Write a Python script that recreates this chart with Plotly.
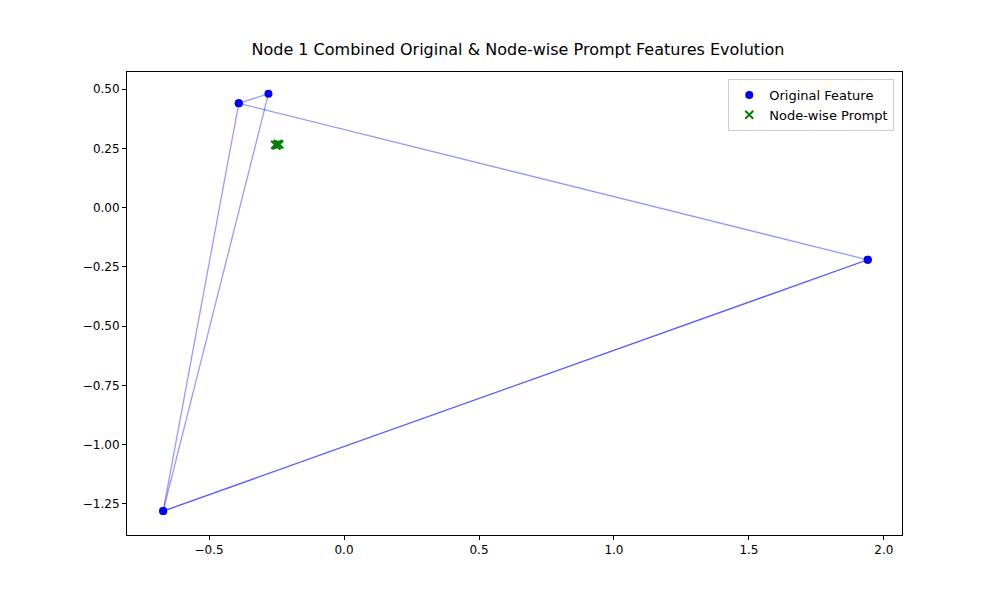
import plotly.graph_objects as go

orig_x = [-0.39, -0.28, -0.67, -0.39, 1.94, -0.67, 1.94]
orig_y = [0.44, 0.48, -1.28, 0.44, -0.22, -1.28, -0.22]
prompt_x = [-0.255, -0.245, -0.25, -0.24]
prompt_y = [0.265, 0.268, 0.262, 0.266]

fig = go.Figure()
for i in range(len(orig_x) - 1):
    fig.add_trace(go.Scatter(x=orig_x[i:i+2], y=orig_y[i:i+2], mode="lines",
                             line=dict(color="rgba(0,0,255,0.4)", width=1.3),
                             showlegend=False, hoverinfo="skip"))
fig.add_trace(go.Scatter(x=orig_x, y=orig_y, mode="markers", name="Original Feature",
                         marker=dict(color="blue", size=8)))
fig.add_trace(go.Scatter(x=prompt_x, y=prompt_y, mode="markers", name="Node-wise Prompt",
                         marker=dict(color="green", size=8, symbol="x-thin",
                                     line=dict(color="green", width=2))))

ax = dict(showgrid=False, zeroline=False, showline=True, mirror=True, linecolor="black",
          ticks="outside", tickcolor="black", ticklen=4, tickfont=dict(size=12, color="black"))
fig.update_layout(
    width=1000, height=600, plot_bgcolor="white", paper_bgcolor="white",
    font=dict(family="DejaVu Sans", color="black"),
    title=dict(text="Node 1 Combined Original & Node-wise Prompt Features Evolution",
               x=0.51, xanchor="center", y=0.94, font=dict(size=16)),
    margin=dict(l=119, r=106, t=64, b=73),
    xaxis=dict(range=[-0.804, 2.067], tickvals=[-0.5, 0, 0.5, 1, 1.5, 2],
               ticktext=["−0.5", "0.0", "0.5", "1.0", "1.5", "2.0"], **ax),
    yaxis=dict(range=[-1.381, 0.572], tickvals=[0.5, 0.25, 0, -0.25, -0.5, -0.75, -1, -1.25],
               ticktext=["0.50", "0.25", "0.00", "−0.25", "−0.50", "−0.75", "−1.00", "−1.25"], **ax),
    legend=dict(x=0.99, y=0.985, xanchor="right", yanchor="top", bordercolor="#ccc",
                borderwidth=1, font=dict(size=13)),
)
fig.write_html("out.html")
